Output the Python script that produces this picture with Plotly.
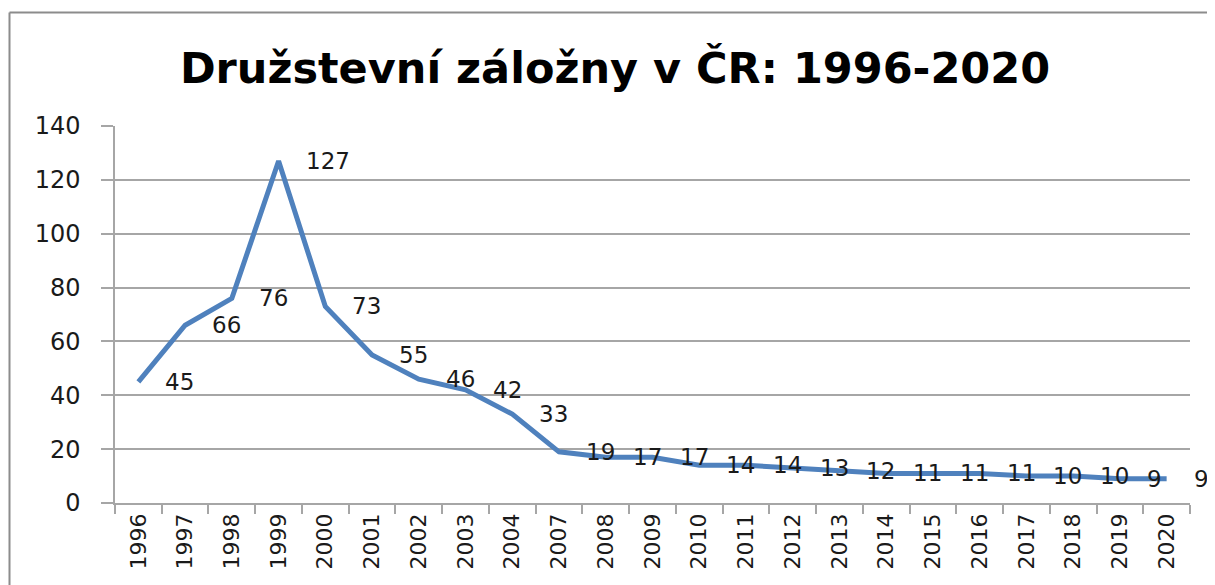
import plotly.graph_objects as go

years = ["1996", "1997", "1998", "1999", "2000", "2001", "2002", "2003", "2004",
         "2007", "2008", "2009", "2010", "2011", "2012", "2013", "2014", "2015",
         "2016", "2017", "2018", "2019", "2020"]
counts = [45, 66, 76, 127, 73, 55, 46, 42, 33, 19, 17, 17, 14, 14, 13, 12, 11, 11,
          11, 10, 10, 9, 9]
y_ticks = [0, 20, 40, 60, 80, 100, 120, 140]
title_text = "Družstevní záložny v ČR: 1996-2020"

# page body has an 8px margin: figure is drawn starting at (8, 8)
OFF = 8
W, H = 1215 - 2 * OFF, 585 - OFF
L, R, T, B = 115 - OFF, 25 - OFF, 126 - OFF, 82
pw, ph = W - L - R, H - T - B

fig = go.Figure()
fig.add_trace(go.Scatter(
    x=years, y=counts, mode="lines",
    line=dict(color="#4f81bd", width=5),
    hoverinfo="x+y", showlegend=False,
))

for i, v in enumerate(counts):
    fig.add_annotation(
        x=i, y=v, text=str(v), showarrow=False,
        xanchor="left", yanchor="middle", xshift=25,
        font=dict(family="DejaVu Sans", size=23, color="#1a1a1a"),
    )

grid_col = "#a6a6a6"
fig.update_xaxes(
    type="category", tickson="boundaries", ticks="outside", ticklen=9,
    tickcolor=grid_col, tickwidth=1.5, tickangle=-90,
    showline=True, linecolor=grid_col, linewidth=1.5,
    showgrid=False, zeroline=False,
    tickfont=dict(family="DejaVu Sans", size=22, color="#1a1a1a"),
    range=[-0.5, len(years) - 0.5],
)
fig.update_yaxes(
    range=[0, 140], tickvals=y_ticks, ticks="outside", ticklen=12,
    tickcolor=grid_col, tickwidth=1.5, ticklabelstandoff=16,
    showline=True, linecolor=grid_col, linewidth=1.5,
    showgrid=True, gridcolor=grid_col, gridwidth=1.5, zeroline=False,
    tickfont=dict(family="DejaVu Sans", size=24, color="#1a1a1a"),
)

# outer chart frame (top and left edges visible)
fx = (9.5 - OFF - L) / pw
fy = (H - B - (12.5 - OFF)) / ph
frame = dict(color="#8c8c8c", width=2)
fig.add_shape(type="line", xref="paper", yref="paper", x0=fx, x1=1.2, y0=fy, y1=fy, line=frame)
fig.add_shape(type="line", xref="paper", yref="paper", x0=fx, x1=fx, y0=fy, y1=-0.3, line=frame)

fig.update_layout(
    width=W, height=H,
    margin=dict(l=L, r=R, t=T, b=B),
    paper_bgcolor="white", plot_bgcolor="white",
    title=dict(
        text=title_text, x=(615 - OFF) / W, xanchor="center",
        y=1 - (68 - OFF) / H, yanchor="middle",
        font=dict(family="DejaVu Sans", size=43, color="black", weight="bold"),
    ),
)

fig.write_html("out.html")
